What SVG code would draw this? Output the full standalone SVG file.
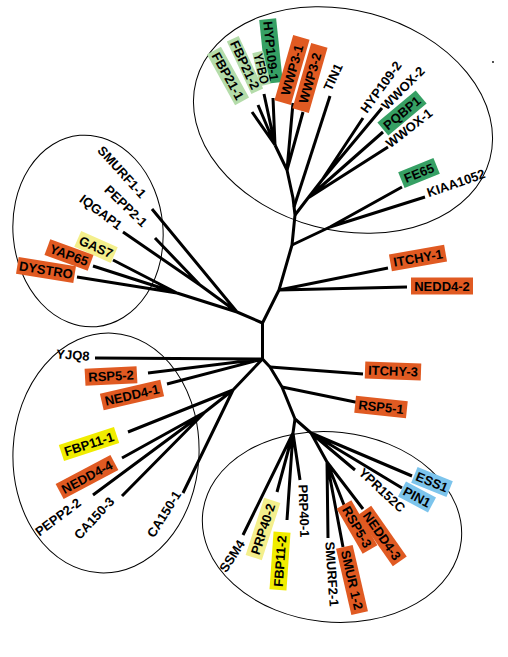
<svg xmlns="http://www.w3.org/2000/svg" width="508" height="657" viewBox="0 0 508 657">
<style>
.bg{fill:#fff}
.ell{fill:none;stroke:#000;stroke-width:1}
#connectors path{fill:none;stroke:#000;stroke-width:3;stroke-linejoin:round}
text{font-family:"Liberation Sans",Arial,sans-serif;font-weight:bold;font-size:13px;text-anchor:middle;fill:#000}
.or{fill:#e05a22}.gr{fill:#36a064}.lg{fill:#b4dcaa}.ye{fill:#f0ec00}.ly{fill:#f4ef8c}.bl{fill:#7cc4ec}
</style>
<rect class="bg" x="0" y="0" width="508" height="657"/>
<g id="clusters">
<ellipse class="ell" cx="343" cy="120" rx="152" ry="110" transform="rotate(15 343 120)"/>
<ellipse class="ell" cx="88" cy="231" rx="75" ry="96" transform="rotate(-5 88 231)"/>
<ellipse class="ell" cx="106" cy="453" rx="93" ry="120" transform="rotate(3 106 453)"/>
<ellipse class="ell" cx="332" cy="527" rx="130" ry="95" transform="rotate(6 332 527)"/>
<circle cx="493" cy="62" r="0.9" fill="#000"/>
</g>
<g id="connectors">
<path d="M275,145 L287,170 L293,198 L295,215 L292,245 L279,290 L262.5,323 L262.5,359 L270,367 L282,387 L295,419"/>
<path d="M275,145 L252,112 M275,145 L258,105 M275,145 L264,94 M275,145 L273,98"/>
<path d="M287,170 L293,103 M287,170 L303,112"/>
<path d="M294,207 L330,96"/>
<path d="M295,215 L308,198 L383,132 M308,198 L388,147 M308,198 L322,180 L363,118 M322,180 L382,108"/>
<path d="M292,245 L330,227 L402,187 M330,227 L425,197"/>
<path d="M279,290 L388,268 M279,290 L407,287"/>
<path d="M262.5,323 L237,312 L152,209 M237,312 L200,285 L155,238 M200,285 L123,232 M237,312 L177,293 L113,260 M177,293 L93,266 M177,293 L77,277"/>
<path d="M262.5,359 L95,358 M262.5,359 L148,373 M262.5,359 L167,384 M262.5,359 L233,390 L128,432 M233,390 L183,493 M233,390 L205,412 L122,458 M205,412 L93,495 M205,412 L122,496"/>
<path d="M270,367 L363,374 M282,387 L360,403"/>
<path d="M295,419 L293,433 L243,535 M293,433 L277,492 M293,433 L287,520 M293,433 L300,480"/>
<path d="M295,419 L311,433 L355,470 M311,433 L402,488 M311,433 L412,476 M311,433 L327,462 L328,538 M327,462 L343,547 M327,462 L344,505 M327,462 L363,509"/>
</g>
<g id="n-HYP109-1" transform="translate(271,51) rotate(84)"><rect class="gr" x="-32" y="-8.5" width="64" height="17"/><text y="4.6">HYP109-1</text></g>
<g id="n-YFBO" transform="translate(261.5,68.5) rotate(77)"><rect class="lg" x="-17" y="-5.5" width="34" height="11"/><text y="4.6" textLength="31" lengthAdjust="spacingAndGlyphs">YFBO</text></g>
<g id="n-FBP21-1" transform="translate(228,76) rotate(61)"><rect class="lg" x="-29" y="-8" width="58" height="16"/><text y="4.6">FBP21-1</text></g>
<g id="n-FBP21-2" transform="translate(245,65) rotate(65)"><rect class="lg" x="-29" y="-6.5" width="58" height="13"/><text y="4.6">FBP21-2</text></g>
<g id="n-WWP3-1" transform="translate(292,70) rotate(-74)"><rect class="or" x="-34" y="-8.5" width="68" height="17"/><text y="4.6">WWP3-1</text></g>
<g id="n-WWP3-2" transform="translate(310,78) rotate(-74)"><rect class="or" x="-34" y="-8.5" width="68" height="17"/><text y="4.6">WWP3-2</text></g>
<g id="n-TIN1" transform="translate(333,77) rotate(-65)"><text y="4.6">TIN1</text></g>
<g id="n-HYP109-2" transform="translate(381,87) rotate(-54)"><text y="4.6">HYP109-2</text></g>
<g id="n-WWOX-2" transform="translate(403,88) rotate(-45)"><text y="4.6">WWOX-2</text></g>
<g id="n-PQBP1" transform="translate(402,113) rotate(-40)"><rect class="gr" x="-25" y="-8.5" width="50" height="17"/><text y="4.6">PQBP1</text></g>
<g id="n-WWOX-1" transform="translate(409,128) rotate(-38)"><text y="4.6">WWOX-1</text></g>
<g id="n-FE65" transform="translate(419,173) rotate(-22)"><rect class="gr" x="-19" y="-8.5" width="38" height="17"/><text y="4.6">FE65</text></g>
<g id="n-KIAA1052" transform="translate(456,183) rotate(-19)"><text y="4.6">KIAA1052</text></g>
<g id="n-ITCHY-1" transform="translate(418,258) rotate(-10)"><rect class="or" x="-28" y="-8.5" width="56" height="17"/><text y="4.6">ITCHY-1</text></g>
<g id="n-NEDD4-2" transform="translate(442,286)"><rect class="or" x="-31" y="-8.5" width="62" height="17"/><text y="4.6">NEDD4-2</text></g>
<g id="n-ITCHY-3" transform="translate(393,371) rotate(2)"><rect class="or" x="-28" y="-8.5" width="56" height="17"/><text y="4.6">ITCHY-3</text></g>
<g id="n-RSP5-1" transform="translate(381,407) rotate(6)"><rect class="or" x="-26" y="-8.5" width="52" height="17"/><text y="4.6">RSP5-1</text></g>
<g id="n-ESS1" transform="translate(432,482) rotate(22)"><rect class="bl" x="-19" y="-8.5" width="38" height="17"/><text y="4.6">ESS1</text></g>
<g id="n-PIN1" transform="translate(417,497) rotate(28)"><rect class="bl" x="-17" y="-8.5" width="34" height="17"/><text y="4.6">PIN1</text></g>
<g id="n-YPR152C" transform="translate(382,490) rotate(43)"><text y="4.6">YPR152C</text></g>
<g id="n-NEDD4-3" transform="translate(382,536) rotate(55)"><rect class="or" x="-31" y="-8.5" width="62" height="17"/><text y="4.6">NEDD4-3</text></g>
<g id="n-RSP5-3" transform="translate(357,527) rotate(60)"><rect class="or" x="-26" y="-8.5" width="52" height="17"/><text y="4.6">RSP5-3</text></g>
<g id="n-SMUR1-2" transform="translate(352,580) rotate(77)"><rect class="or" x="-34" y="-8.5" width="68" height="17"/><text y="4.6">SMUR 1-2</text></g>
<g id="n-SMURF2-1" transform="translate(332,574) rotate(86)"><text y="4.6">SMURF2-1</text></g>
<g id="n-PRP40-1" transform="translate(304,511) rotate(88)"><text y="4.6">PRP40-1</text></g>
<g id="n-FBP11-2" transform="translate(280,561) rotate(-86)"><rect class="ye" x="-29" y="-8.5" width="58" height="17"/><text y="4.6">FBP11-2</text></g>
<g id="n-PRP40-2" transform="translate(263,529) rotate(-72)"><rect class="ly" x="-30" y="-8.5" width="60" height="17"/><text y="4.6">PRP40-2</text></g>
<g id="n-SSM4" transform="translate(232,556) rotate(-57)"><text y="4.6">SSM4</text></g>
<g id="n-YJQ8" transform="translate(73,355) rotate(4)"><text y="4.6">YJQ8</text></g>
<g id="n-RSP5-2" transform="translate(111,376) rotate(-3)"><rect class="or" x="-26" y="-8.5" width="52" height="17"/><text y="4.6">RSP5-2</text></g>
<g id="n-NEDD4-1" transform="translate(132,395) rotate(-13)"><rect class="or" x="-31" y="-8.5" width="62" height="17"/><text y="4.6">NEDD4-1</text></g>
<g id="n-FBP11-1" transform="translate(89,444) rotate(-18)"><rect class="ye" x="-29" y="-8.5" width="58" height="17"/><text y="4.6">FBP11-1</text></g>
<g id="n-NEDD4-4" transform="translate(87,477) rotate(-28)"><rect class="or" x="-31" y="-8.5" width="62" height="17"/><text y="4.6">NEDD4-4</text></g>
<g id="n-PEPP2-2" transform="translate(58,517) rotate(-37)"><text y="4.6">PEPP2-2</text></g>
<g id="n-CA150-3" transform="translate(94,518) rotate(-47)"><text y="4.6">CA150-3</text></g>
<g id="n-CA150-1" transform="translate(164,514) rotate(-58)"><text y="4.6">CA150-1</text></g>
<g id="n-SMURF1-1" transform="translate(122,172) rotate(48)"><text y="4.6">SMURF1-1</text></g>
<g id="n-PEPP2-1" transform="translate(126,206) rotate(44)"><text y="4.6">PEPP2-1</text></g>
<g id="n-IQGAP1" transform="translate(101,212) rotate(37)"><text y="4.6">IQGAP1</text></g>
<g id="n-GAS7" transform="translate(96,247) rotate(24)"><rect class="ly" x="-20" y="-8.5" width="40" height="17"/><text y="4.6">GAS7</text></g>
<g id="n-YAP65" transform="translate(69,255) rotate(20)"><rect class="or" x="-23" y="-8.5" width="46" height="17"/><text y="4.6">YAP65</text></g>
<g id="n-DYSTRO" transform="translate(46,270) rotate(9)"><rect class="or" x="-29" y="-8.5" width="58" height="17"/><text y="4.6">DYSTRO</text></g>
</svg>
